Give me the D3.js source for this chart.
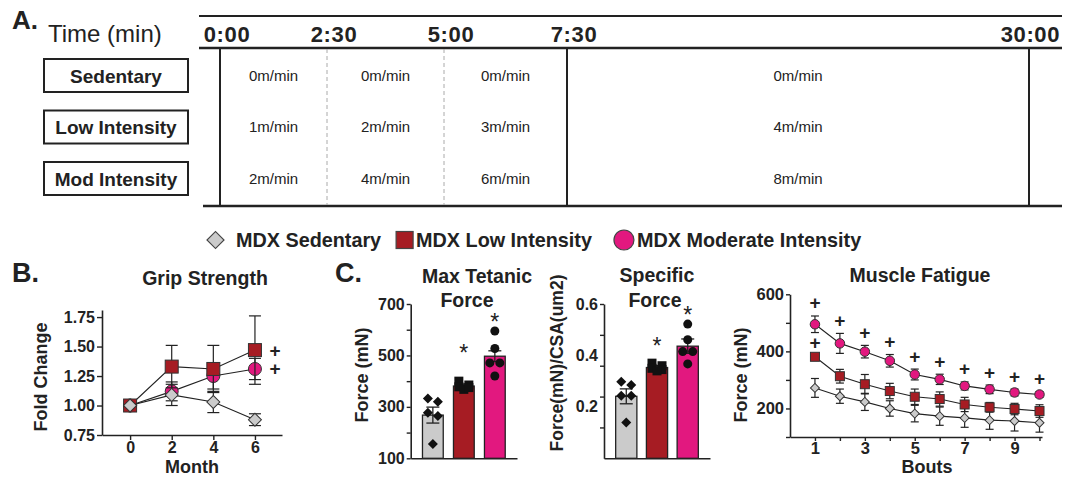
<!DOCTYPE html>
<html>
<head>
<meta charset="utf-8">
<script src="https://cdn.jsdelivr.net/npm/d3@7"></script>
<style>
  body { margin: 0; background: #fff; }
  svg { display: block; font-family: "Liberation Sans", Arial, Helvetica, sans-serif; }
</style>
</head>
<body>
<svg id="fig" width="1070" height="477"></svg>
<script>
// ---- A: exercise protocol
const phaseTimes = [0, 2.5, 5, 7.5, 30];
const phaseLabels = ["0:00", "2:30", "5:00", "7:30", "30:00"];
const protocolRows = ["Sedentary", "Low Intensity", "Mod Intensity"];
const sedentarySpeeds = ["0m/min", "0m/min", "0m/min", "0m/min"];
const lowSpeeds = ["1m/min", "2m/min", "3m/min", "4m/min"];
const modSpeeds = ["2m/min", "4m/min", "6m/min", "8m/min"];

// ---- groups / legend
const groups = ["MDX Sedentary", "MDX Low Intensity", "MDX Moderate Intensity"];
const groupFill = ["#cbcbcb", "#a61c23", "#e2187f"];

// ---- B: grip strength (fold change)
const months = [0, 2, 4, 6];
const gripSed = [1.00, 1.09, 1.03, 0.88];
const gripSedErr = [0, 0.09, 0.09, 0.05];
const gripLow = [1.00, 1.33, 1.31, 1.47];
const gripLowErr = [0, 0.18, 0.20, 0.29];
const gripMod = [1.00, 1.12, 1.25, 1.31];
const gripModErr = [0, 0.08, 0.11, 0.09];
const gripTicks = [0.75, 1.00, 1.25, 1.50, 1.75];

// ---- C: max tetanic force (mN)
const tetanicMean = [268, 381, 497];
const tetanicSem = [31, 8, 21];
const tetanicPts = [[320, 333, 277, 264, 156], [400, 385, 378, 368, 375], [595, 527, 471, 471, 420]];
const tetanicTicks = [100, 200, 300, 400, 500, 600, 700];
const tetanicLabels = [100, 300, 500, 700];

// ---- C: specific force
const specMean = [0.241, 0.353, 0.436];
const specSem = [0.029, 0.008, 0.028];
const specPts = [[0.285, 0.298, 0.243, 0.243, 0.139], [0.36, 0.37, 0.35, 0.345, 0.34], [0.522, 0.461, 0.415, 0.415, 0.367]];
const specTicks = [0.12, 0.24, 0.36, 0.48, 0.6];
const specLabels = [0.2, 0.4, 0.6];

// ---- C: muscle fatigue
const bouts = [1, 2, 3, 4, 5, 6, 7, 8, 9, 10];
const fatigueSed = [272, 243, 223, 200, 182, 173, 167, 159, 156, 150];
const fatigueSedErr = [33, 25, 30, 27, 29, 32, 33, 32, 35, 33];
const fatigueLow = [381, 313, 285, 261, 241, 233, 214, 204, 198, 191];
const fatigueLowErr = [8, 24, 34, 27, 27, 25, 25, 17, 20, 22];
const fatigueMod = [495, 428, 399, 367, 319, 302, 279, 267, 256, 249];
const fatigueModErr = [29, 35, 22, 22, 19, 18, 14, 15, 12, 10];
const fatigueTicks = [100, 200, 300, 400, 500, 600];
const fatigueLabels = [200, 400, 600];

const ink = "#222";
const svg = d3.select("#fig");

let label = function(x, y, s, size, bold, anchor) {
  return svg.append("text")
    .attr("x", x).attr("y", y)
    .attr("font-size", size)
    .attr("font-weight", bold ? "bold" : "normal")
    .attr("text-anchor", anchor || "start")
    .attr("fill", ink)
    .text(s);
};

let vlabel = function(x, y, s, size) {
  svg.append("text")
    .attr("transform", `translate(${x},${y}) rotate(-90)`)
    .attr("font-size", size).attr("font-weight", "bold")
    .attr("text-anchor", "middle").attr("fill", ink)
    .text(s);
};

let hline = function(x1, x2, y, w) {
  svg.append("line").attr("x1", x1).attr("x2", x2).attr("y1", y).attr("y2", y)
    .attr("stroke", ink).attr("stroke-width", w);
};

let styleAxis = function(g, size) {
  g.attr("font-family", null).attr("font-size", size).attr("font-weight", "bold");
  g.select(".domain").attr("stroke", ink).attr("stroke-width", 1.6);
  g.selectAll(".tick line").attr("stroke", ink).attr("stroke-width", 1.4);
  g.selectAll(".tick text").attr("fill", ink);
};

// marker shapes: square rotated 45deg for the diamond
let shapeOf = ["diamond", "square", "circle"];
let drawMarker = function(sel, shape, side) {
  if (shape === "circle") {
    sel.append("circle").attr("r", side / 2);
  } else if (shape === "square") {
    sel.append("rect").attr("x", -side / 2).attr("y", -side / 2).attr("width", side).attr("height", side);
  } else {
    let s = side / Math.SQRT2;
    sel.append("rect").attr("x", -s / 2).attr("y", -s / 2).attr("width", s).attr("height", s)
      .attr("transform", "rotate(45)");
  }
};

/* ===================== A. protocol ===================== */
label(12, 29, "A.", 26, true);
label(48, 42, "Time (min)", 24, false);

// the timeline is not proportional in the original, so a piecewise scale
let tx = d3.scaleLinear().domain(phaseTimes).range([220, 327, 444, 567, 1029]);

hline(199, 1062, 16, 2);
hline(199, 1062, 48, 2.5);
hline(203, 1062, 206, 2.5);

svg.append("g").selectAll("line")
  .data(phaseTimes)
  .join("line")
    .attr("x1", d => tx(d)).attr("x2", d => tx(d))
    .attr("y1", 49).attr("y2", 205)
    .attr("stroke", (d, i) => (i === 1 || i === 2) ? "#aaa" : ink)
    .attr("stroke-width", (d, i) => (i === 1 || i === 2) ? 1 : 2)
    .attr("stroke-dasharray", (d, i) => (i === 1 || i === 2) ? "4,3" : null);

let lastPhase = phaseTimes.length - 1;
svg.append("g").selectAll("text")
  .data(phaseTimes)
  .join("text")
    .attr("x", (d, i) => i === lastPhase ? tx(d) + 31 : tx(d) + 7)
    .attr("y", 42)
    .attr("text-anchor", (d, i) => i === lastPhase ? "end" : "middle")
    .attr("font-size", 22).attr("font-weight", "bold").attr("letter-spacing", 0.6)
    .attr("fill", ink)
    .text((d, i) => phaseLabels[i]);

let rowY = d3.scalePoint().domain(protocolRows).range([75.5, 178.5]);
let speeds = [sedentarySpeeds, lowSpeeds, modSpeeds];

protocolRows.forEach((row, r) => {
  svg.append("rect")
    .attr("x", 44).attr("y", rowY(row) - 16.5)
    .attr("width", 144).attr("height", 33)
    .attr("fill", "none").attr("stroke", ink).attr("stroke-width", 2);
  label(116, rowY(row) + 7, row, 19, true, "middle");

  speeds[r].forEach((s, c) => {
    let cx = (tx(phaseTimes[c]) + tx(phaseTimes[c + 1])) / 2;
    label(cx, rowY(row) + 5, s, 15, false, "middle");
  });
});

/* ===================== legend ===================== */
let legendY = 240;
let lx = 207;
let legendMarker = [17, 17, 20];
let legendGap = [15, 22, 0];
groups.forEach((gname, i) => {
  let m = svg.append("g")
    .attr("transform", `translate(${lx + legendMarker[i] / 2},${legendY})`)
    .attr("fill", groupFill[i]).attr("stroke", "#444").attr("stroke-width", 1.2);
  drawMarker(m, shapeOf[i], legendMarker[i]);
  let t = label(lx + legendMarker[i] + (i === 0 ? 12 : 3), legendY + 7, gname, 19.8, true);
  lx = lx + legendMarker[i] + (i === 0 ? 12 : 3) + t.node().getComputedTextLength() + legendGap[i];
});

/* ===================== B. grip strength ===================== */
label(12, 282, "B.", 27, true);
label(205, 285, "Grip Strength", 19.5, true, "middle");

let gx = d3.scaleLinear().domain([-1.35, 7.3]).range([102, 282]);
let gy = d3.scaleLinear().domain([0.75, 1.81]).range([435, 310]);

svg.append("g").attr("transform", "translate(102,0)")
  .call(d3.axisLeft(gy).tickValues(gripTicks).tickFormat(d3.format(".2f"))
    .tickSize(5).tickPadding(2).tickSizeOuter(0))
  .call(g => styleAxis(g, 16));
svg.append("g").attr("transform", "translate(0,435)")
  .call(d3.axisBottom(gx).tickValues(months).tickFormat(d3.format("d"))
    .tickSize(5).tickPadding(2).tickSizeOuter(0))
  .call(g => styleAxis(g, 16));

label(192, 473, "Month", 18, true, "middle");
vlabel(47, 377, "Fold Change", 18);

let drawSeries = function(xs, ys, means, errs, idx, side, cap) {
  let pts = xs.map((x, i) => ({ x: x, m: means[i], e: errs[i] }));
  let g = svg.append("g");
  g.append("path")
    .datum(pts)
    .attr("fill", "none").attr("stroke", ink).attr("stroke-width", 1.1)
    .attr("d", d3.line().x(d => xs.scale(d.x)).y(d => ys(d.m)));
  let eb = g.selectAll(".eb").data(pts.filter(d => d.e > 0)).join("g")
    .attr("stroke", ink).attr("stroke-width", 1.2);
  eb.append("line")
    .attr("x1", d => xs.scale(d.x)).attr("x2", d => xs.scale(d.x))
    .attr("y1", d => ys(d.m - d.e)).attr("y2", d => ys(d.m + d.e));
  eb.append("line")
    .attr("x1", d => xs.scale(d.x) - cap / 2).attr("x2", d => xs.scale(d.x) + cap / 2)
    .attr("y1", d => ys(d.m + d.e)).attr("y2", d => ys(d.m + d.e));
  eb.append("line")
    .attr("x1", d => xs.scale(d.x) - cap / 2).attr("x2", d => xs.scale(d.x) + cap / 2)
    .attr("y1", d => ys(d.m - d.e)).attr("y2", d => ys(d.m - d.e));
  g.selectAll(".mk").data(pts).join("g")
    .attr("transform", d => `translate(${xs.scale(d.x)},${ys(d.m)})`)
    .attr("fill", groupFill[idx]).attr("stroke", "#333").attr("stroke-width", 1)
    .each(function() { drawMarker(d3.select(this), shapeOf[idx], side); });
};

let gxs = months.slice(); gxs.scale = gx;
drawSeries(gxs, gy, gripMod, gripModErr, 2, 13, 12);
drawSeries(gxs, gy, gripLow, gripLowErr, 1, 13, 12);
drawSeries(gxs, gy, gripSed, gripSedErr, 0, 13, 12);

// significance marks next to last month
[gripLow, gripMod].forEach(series => {
  label(gx(months[months.length - 1]) + 20, gy(series[series.length - 1]) + 6.5, "+", 19, true, "middle");
});

/* ===================== C. bar panels ===================== */
label(335, 282, "C.", 27, true);

let dodge = function(vals, y, gap, off) {
  let order = vals.map((v, i) => i).sort((a, b) => vals[b] - vals[a]);
  let out = new Array(vals.length).fill(0);
  let prev = null, prevPaired = false;
  order.forEach(i => {
    if (prev !== null && !prevPaired && Math.abs(y(vals[i]) - y(vals[prev])) < gap) {
      out[prev] = -off; out[i] = off; prevPaired = true;
    } else {
      prevPaired = false;
    }
    prev = i;
  });
  return out;
};

let drawBars = function(cfg) {
  let y = cfg.y, band = cfg.band;
  let base = y.domain()[0];
  // y axis
  svg.append("g").attr("transform", `translate(${band.range()[0]},0)`)
    .call(d3.axisLeft(y).tickValues(cfg.ticks)
      .tickFormat(d => cfg.labels.includes(d) ? cfg.fmt(d) : "")
      .tickSize(4).tickPadding(2).tickSizeOuter(0))
    .call(g => styleAxis(g, 16));
  if (cfg.freeLabels) {
    cfg.freeLabels.forEach(v => label(band.range()[0] - 6, y(v) + 5.5, cfg.fmt(v), 16, true, "end"));
  }
  // baseline
  svg.append("g").attr("transform", `translate(0,${y(base)})`)
    .call(d3.axisBottom(band).tickSize(0).tickFormat(""))
    .call(g => styleAxis(g, 16));

  groups.forEach((gname, i) => {
    let bx = band(gname), bw = band.bandwidth(), cx = bx + bw / 2;
    let m = cfg.mean[i], e = cfg.sem[i];
    svg.append("rect")
      .attr("x", bx).attr("y", y(m)).attr("width", bw).attr("height", y(base) - y(m))
      .attr("fill", groupFill[i]).attr("stroke", ink).attr("stroke-width", 1.3);
    let eb = svg.append("g").attr("stroke", ink).attr("stroke-width", 1.3);
    eb.append("line").attr("x1", cx).attr("x2", cx).attr("y1", y(m - e)).attr("y2", y(m + e));
    [m - e, m + e].forEach(v => eb.append("line")
      .attr("x1", cx - 6.5).attr("x2", cx + 6.5).attr("y1", y(v)).attr("y2", y(v)));

    let offs = dodge(cfg.pts[i], y, 9, 5);
    cfg.pts[i].forEach((v, k) => {
      let p = svg.append("g")
        .attr("transform", `translate(${cx + offs[k]},${y(v)})`)
        .attr("fill", "#111").attr("stroke", "none");
      drawMarker(p, shapeOf[i], i === 0 ? 10 : 9);
    });

    if (i > 0) {
      let centre = Math.min(y(d3.max(cfg.pts[i])) - 14, y(m) - cfg.starLift);
      label(cx, centre + 13, "*", 23, false, "middle");
    }
  });
};

// Max tetanic force
label(477, 283, "Max Tetanic", 19.5, true, "middle");
label(467, 307, "Force", 19.5, true, "middle");
vlabel(368, 375, "Force (mN)", 18);
drawBars({
  y: d3.scaleLinear().domain([100, 700]).range([458.3, 304]),
  band: d3.scaleBand().domain(groups).range([410.7, 517]).paddingInner(0.33).paddingOuter(0.38),
  ticks: tetanicTicks, labels: tetanicLabels, fmt: d3.format("d"),
  mean: tetanicMean, sem: tetanicSem, pts: tetanicPts, starLift: 38
});

// Specific force: tick marks and labels do not coincide in the original
label(657, 282, "Specific", 19.5, true, "middle");
label(655, 307, "Force", 19.5, true, "middle");
vlabel(563, 363, "Force(mN)/CSA(um2)", 17.5);
drawBars({
  y: d3.scaleLinear().domain([0, 0.6]).range([458.3, 304]),
  band: d3.scaleBand().domain(groups).range([604, 710]).paddingInner(0.31).paddingOuter(0.38),
  ticks: specTicks, labels: [], fmt: d3.format(".1f"), freeLabels: specLabels,
  mean: specMean, sem: specSem, pts: specPts, starLift: 27
});

/* ===================== C. muscle fatigue ===================== */
label(920, 282, "Muscle Fatigue", 19.5, true, "middle");
vlabel(747, 375, "Force (mN)", 18);
label(927, 473, "Bouts", 18, true, "middle");

let fx = d3.scaleLinear().domain([0, 10.1]).range([790, 1042]);
let fy = d3.scaleLinear().domain([100, 600]).range([437, 294.3]);

svg.append("g").attr("transform", "translate(790,0)")
  .call(d3.axisLeft(fy).tickValues(fatigueTicks)
    .tickFormat(d => fatigueLabels.includes(d) ? d : "")
    .tickSize(4).tickPadding(2).tickSizeOuter(0))
  .call(g => styleAxis(g, 16.5));
svg.append("g").attr("transform", "translate(0,437)")
  .call(d3.axisBottom(fx).tickValues(bouts)
    .tickFormat(d => d % 2 === 1 ? d : "")
    .tickSize(4).tickPadding(1).tickSizeOuter(0))
  .call(g => styleAxis(g, 16.5));

let fxs = bouts.slice(); fxs.scale = fx;
drawSeries(fxs, fy, fatigueSed, fatigueSedErr, 0, 9, 8);
drawSeries(fxs, fy, fatigueLow, fatigueLowErr, 1, 9, 8);
drawSeries(fxs, fy, fatigueMod, fatigueModErr, 2, 9.5, 8);

// significance: moderate vs sedentary at every bout, low at bout 1
bouts.forEach((b, i) => {
  label(fx(b), fy(fatigueMod[i] + fatigueModErr[i]) - 13 + 6.5, "+", 19, true, "middle");
});
label(fx(bouts[0]), fy(fatigueLow[0]) - 14 + 6.5, "+", 19, true, "middle");
</script>
</body>
</html>
